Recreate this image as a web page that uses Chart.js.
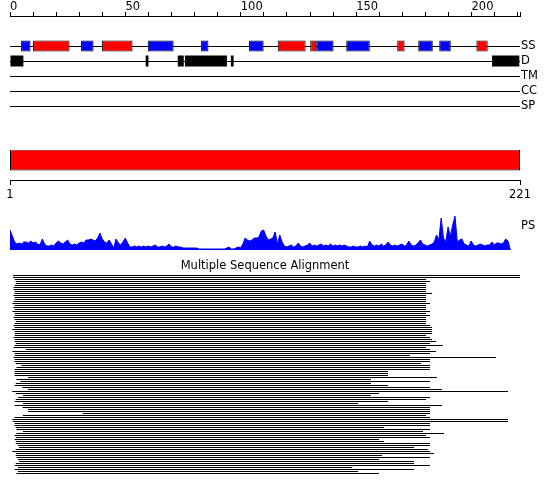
<!DOCTYPE html>
<html>
<head>
<meta charset="utf-8">
<script src="https://cdn.jsdelivr.net/npm/chart.js@4"></script>
<style>
  body { margin: 0; background: #fff; }
  #wrap { position: relative; width: 550px; height: 495px; }
  canvas { position: absolute; left: 0; }
</style>
</head>
<body>
<div id="wrap">
  <canvas id="tracks" width="550" height="120" style="top:1px"></canvas>
  <canvas id="summary" width="550" height="70" style="top:140px"></canvas>
  <canvas id="ps" width="550" height="45" style="top:205px"></canvas>
  <canvas id="msa" width="550" height="220" style="top:255px"></canvas>
</div>
<script>
// sequence length and axis labels
const seqLength = 221
const topTickLabels = [0, 50, 100, 150, 200]
const trackNames = ['SS', 'D', 'TM', 'CC', 'SP']

// secondary structure (residue ranges)
const helix = [[10.0, 25.8], [39.9, 53.1], [116.0, 128.1], [130.1, 132.7], [167.8, 171.0], [202.1, 207.0]]
const strand = [[4.8, 8.9], [30.8, 36.2], [59.7, 70.9], [82.8, 86.0], [103.6, 109.9], [132.7, 140.2], [145.7, 155.9], [176.9, 183.2], [186.0, 191.0]]
// disordered regions
const disorder = [[0, 5.8], [58.8, 60.0], [72.7, 75.3], [75.8, 94.0], [95.7, 96.9], [208.9, 220.7]]

// PS profile, one value per residue
const psScore = [
  20, 14, 8, 6, 7, 6, 8, 8, 7, 9, 7, 8, 6, 5, 11, 6, 4, 4, 5, 4,
  7, 9, 7, 6, 8, 10, 6, 5, 6, 5, 7, 8, 7, 10, 10, 11, 10, 9, 12, 17,
  11, 8, 7, 10, 6, 2, 11, 7, 5, 8, 12, 7, 3, 3, 4, 3, 4, 3, 4, 3,
  4, 3, 4, 5, 3, 3, 4, 3, 4, 6, 3, 3, 4, 3, 3, 2, 2, 2, 2, 2,
  2, 2, 1, 1, 1, 1, 1, 1, 1, 1, 1, 1, 1, 1, 2, 3, 1, 1, 2, 3,
  2, 6, 12, 10, 9, 10, 12, 12, 13, 19, 20, 14, 10, 11, 12, 18, 6, 15, 8, 4,
  3, 4, 5, 3, 4, 7, 4, 3, 4, 5, 7, 4, 5, 4, 5, 6, 4, 5, 4, 6,
  4, 5, 4, 5, 4, 5, 4, 3, 3, 4, 3, 3, 4, 3, 4, 3, 9, 5, 4, 5,
  4, 6, 4, 5, 8, 5, 4, 5, 4, 5, 6, 4, 5, 9, 5, 4, 5, 7, 10, 6,
  5, 4, 5, 6, 8, 15, 10, 32, 12, 8, 23, 14, 25, 34, 8, 10, 11, 6, 5, 4,
  9, 5, 4, 5, 6, 5, 4, 5, 5, 8, 5, 7, 7, 6, 7, 11, 9, 0
]

// aligned sequences: first and last residue covered
const msaStart = [
  1.3, 1.3, 2.0, 2.5, 2.5, 2.0, 1.5, 1.5, 2.0, 2.0, 1.5, 2.0, 2.0, 1.5, 1.0, 2.0, 1.5, 2.0, 1.0, 2.0,
  2.0, 1.5, 2.0, 2.5, 2.0, 1.5, 2.0, 1.0, 2.0, 2.0, 2.0, 1.5, 2.0, 2.0, 2.5, 2.0, 1.5, 6.8, 1.0, 2.0,
  2.0, 1.5, 2.0, 2.0, 2.5, 4.9, 2.8, 2.0, 2.0, 2.0, 2.0, 7.8, 2.8, 4.5, 2.5, 2.0, 5.4, 7.8, 1.0,
  2.5, 5.6, 3.5, 2.5, 2.0, 5.6, 2.0, 5.4, 7.8, 7.8, 31.5, 5.6, 2.0, 1.0, 1.3, 2.0, 2.0, 2.5, 2.8, 5.6,
  2.8, 2.0, 2.5, 2.0, 2.5, 2.5, 3.5, 3.9, 2.5, 1.0, 2.5, 2.5, 2.8, 3.5, 3.9, 2.5, 2.0, 3.5, 2.0, 3.5,
  2.8
]
const msaEnd = [
  221, 221, 180.3, 182.0, 180.3, 180.3, 180.3, 180.3, 180.3, 182.9, 180.3, 180.3, 180.3, 180.3, 182.0, 180.3, 180.3, 180.3, 182.0, 180.3,
  182.0, 180.3, 180.3, 180.3, 180.3, 182.0, 182.9, 182.9, 182.9, 182.9, 180.3, 182.0, 182.9, 184.6, 182.0, 187.6, 180.3, 182.0, 184.6, 182.0,
  173.3, 210.6, 182.0, 182.0, 178.1, 182.0, 182.0, 182.0, 163.8, 163.8, 163.8, 185.0, 156.4, 182.0, 156.4, 163.8, 182.0, 187.2, 215.8,
  159.9, 156.4, 182.0, 180.3, 163.8, 150.8, 187.2, 182.0, 182.0, 182.0, 182.0, 180.3, 182.0, 215.8, 215.8, 182.0, 182.0, 162.1, 182.0, 179.0,
  188.1, 180.3, 182.0, 159.9, 162.1, 182.0, 182.0, 175.1, 181.1, 182.0, 183.7, 161.2, 182.0, 159.9, 175.1, 175.1, 182.0, 148.2, 175.1, 150.8,
  159.9
]

Chart.defaults.font.family = 'DejaVu Sans'
Chart.defaults.font.size = 11.5
Chart.defaults.color = '#000'
Chart.defaults.animation = false
Chart.defaults.responsive = false
Chart.defaults.plugins.legend.display = false
Chart.defaults.plugins.tooltip.enabled = false

var trackRow = function (name) {
    return trackNames.indexOf(name) + 2
}

// Feature tracks with the numbered ruler on top
var tickValues = []
for (var t = 0; t < seqLength; t += 10) tickValues.push(t)
tickValues.push(seqLength)

new Chart(document.getElementById('tracks'), {
    type: 'bar',
    data: {
        datasets: [{
            data: helix.map(r => ({x: r, y: trackRow('SS')})),
            backgroundColor: '#ff0000',
            borderColor: '#000',
            borderWidth: 1,
            barThickness: 11
        }, {
            data: strand.map(r => ({x: r, y: trackRow('SS')})),
            backgroundColor: '#0000ff',
            borderColor: '#000',
            borderWidth: 1,
            barThickness: 11
        }, {
            data: disorder.map(r => ({x: r, y: trackRow('D')})),
            backgroundColor: '#000',
            borderWidth: 0,
            barThickness: 11
        }]
    },
    options: {
        indexAxis: 'y',
        layout: {padding: {left: 10}},
        datasets: {bar: {grouped: false, inflateAmount: 0, borderSkipped: false}},
        scales: {
            x: {
                type: 'linear',
                position: 'top',
                min: 0,
                max: seqLength,
                afterBuildTicks: s => { s.ticks = tickValues.map(v => ({value: v})) },
                afterFit: s => { s.height = 15 },
                ticks: {
                    autoSkip: false,
                    maxRotation: 0,
                    align: 'start',
                    padding: -2,
                    callback: v => topTickLabels.indexOf(v) >= 0 ? String(v) : ''
                },
                grid: {drawOnChartArea: false, tickLength: 4, color: '#000'},
                border: {color: '#000'}
            },
            y: {
                type: 'linear',
                position: 'right',
                reverse: true,
                offset: false,
                min: 0,
                max: 7,
                afterBuildTicks: s => { s.ticks = trackNames.map(n => ({value: trackRow(n)})) },
                afterFit: s => {
                    s.width = 30
                    s.paddingTop = 0
                    s.paddingBottom = 0
                },
                ticks: {
                    padding: 1,
                    callback: v => trackNames[v - 2]
                },
                grid: {color: '#000', drawTicks: false, offset: false},
                border: {display: false}
            }
        }
    }
})

// Whole-sequence bar with the 1..221 ruler
new Chart(document.getElementById('summary'), {
    type: 'bar',
    data: {
        datasets: [{
            data: [{x: [1, seqLength], y: 1}],
            backgroundColor: '#ff0000',
            borderColor: '#000',
            borderWidth: 1,
            borderSkipped: false,
            inflateAmount: 0,
            barThickness: 21
        }]
    },
    options: {
        indexAxis: 'y',
        layout: {padding: {left: 10, right: 30, top: 10}},
        scales: {
            x: {
                type: 'linear',
                min: 1,
                max: seqLength,
                afterBuildTicks: s => { s.ticks = [{value: 1}, {value: seqLength}] },
                afterFit: s => { s.height = 30 },
                ticks: {autoSkip: false, maxRotation: 0, padding: 3},
                grid: {drawOnChartArea: false, tickLength: 5, color: '#000'},
                border: {color: '#000'}
            },
            y: {type: 'linear', min: 0, max: 3, reverse: true, offset: false, display: false}
        }
    }
})

// PS profile
var psLabel = {
    id: 'psLabel',
    afterDraw(chart) {
        const {ctx, scales: {x, y}} = chart
        ctx.save()
        ctx.font = '11.5px "DejaVu Sans"'
        ctx.fillStyle = '#000'
        ctx.textBaseline = 'middle'
        ctx.fillText('PS', x.getPixelForValue(seqLength) + 1.5, y.getPixelForValue(24))
        ctx.restore()
    }
}

new Chart(document.getElementById('ps'), {
    type: 'line',
    data: {
        datasets: [{
            data: psScore.map((v, i) => ({x: i, y: v})),
            fill: 'origin',
            backgroundColor: '#0000ff',
            borderColor: '#0000ff',
            borderWidth: 1,
            pointRadius: 0,
            tension: 0
        }]
    },
    options: {
        layout: {padding: {left: 10, right: 18, top: 5}},
        scales: {
            x: {
                type: 'linear',
                min: 0,
                max: 226.4,
                afterFit: s => { s.height = 0 },
                ticks: {display: false},
                grid: {display: false},
                border: {color: '#0000ff'}
            },
            y: {min: 0, max: 40, display: false}
        }
    },
    plugins: [psLabel]
})

// Multiple sequence alignment, one row per sequence
new Chart(document.getElementById('msa'), {
    type: 'bar',
    data: {
        datasets: [{
            data: msaStart.map((s, i) => ({x: [s, msaEnd[i]], y: i})),
            backgroundColor: '#000',
            borderWidth: 0,
            inflateAmount: 0,
            barThickness: 1
        }]
    },
    options: {
        indexAxis: 'y',
        layout: {padding: {left: 10, right: 30}},
        plugins: {
            title: {
                display: true,
                text: 'Multiple Sequence Alignment',
                color: '#000',
                font: {size: 11.5, weight: 'normal'},
                padding: {top: 4, bottom: 2.2}
            }
        },
        scales: {
            x: {type: 'linear', min: 0, max: seqLength, display: false},
            y: {type: 'linear', min: -0.25, max: msaStart.length - 0.25, reverse: true, offset: false, display: false}
        }
    }
})
</script>
</body>
</html>
